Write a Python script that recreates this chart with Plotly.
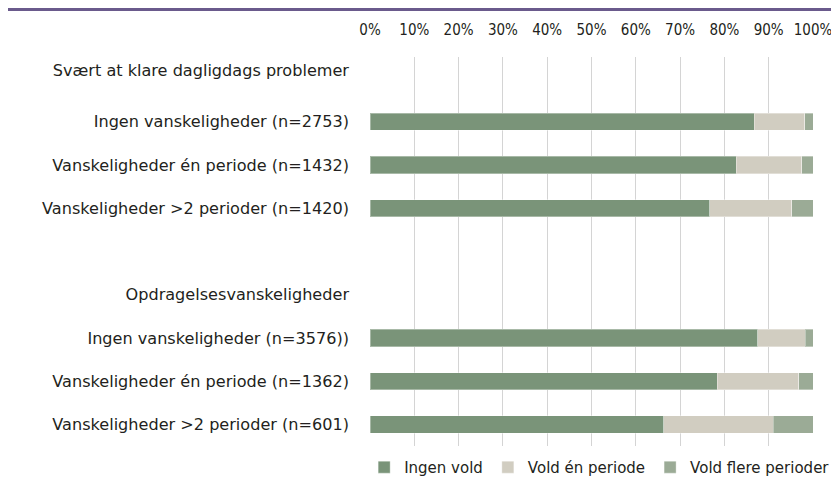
import plotly.graph_objects as go

# rows top to bottom (blank strings are spacer / heading rows)
labels = ["Svært at klare dagligdags problemer",
          "Ingen vanskeligheder (n=2753)",
          "Vanskeligheder én periode (n=1432)",
          "Vanskeligheder >2 perioder (n=1420)",
          "",
          "Opdragelsesvanskeligheder",
          "Ingen vanskeligheder (n=3576))",
          "Vanskeligheder én periode (n=1362)",
          "Vanskeligheder >2 perioder (n=601)"]
rows = list(range(len(labels)))

ingen_vold = [None, 86.7, 82.7, 76.7, None, None, 87.5, 78.4, 66.3]
vold_en = [None, 11.4, 14.8, 18.5, None, None, 10.8, 18.4, 24.7]
vold_flere = [None, 1.9, 2.5, 4.8, None, None, 1.7, 3.2, 9.0]

series = [("Ingen vold", ingen_vold, "#7a9479"),
          ("Vold én periode", vold_en, "#d1cdc1"),
          ("Vold flere perioder", vold_flere, "#9bab96")]

fig = go.Figure()
for name, vals, col in series:
    fig.add_trace(go.Bar(y=rows, x=vals, name=name, orientation="h",
                         marker=dict(color=col, line=dict(color="rgba(255,255,255,0.35)", width=1)),
                         width=0.4))

# heading row label sits a bit higher than its slot
tickpos = [-0.2] + rows[1:]

# page body has an 8px margin, so the figure is 8px smaller and margins shifted
fig.update_layout(
    barmode="stack",
    width=831, height=482,
    margin=dict(l=362, r=26, t=49, b=44, autoexpand=False),
    paper_bgcolor="white", plot_bgcolor="white",
    font=dict(family="DejaVu Sans", size=16.1, color="#231f20"),
    showlegend=True,
    legend=dict(orientation="h", x=1.05, xanchor="right", y=-0.055, yanchor="middle",
                traceorder="normal", font=dict(size=15), itemwidth=30,
                tracegroupgap=0),
    xaxis=dict(side="top", range=[0, 100], dtick=10, ticksuffix="%",
               showgrid=True, gridcolor="#d4d4d4", gridwidth=1, zeroline=False,
               showline=False, ticks="", ticklabelstandoff=18, automargin=False,
               tickfont=dict(family="DejaVu Sans Condensed", size=15)),
    yaxis=dict(range=[8.5, -0.5], tickvals=tickpos, ticktext=labels,
               showgrid=False, zeroline=False, showline=False, ticks="",
               ticklabelstandoff=20, automargin=False),
    shapes=[dict(type="line", xref="paper", yref="paper",
                 x0=-0.82, x1=1.06, y0=1.122, y1=1.122,
                 line=dict(color="#6a5a8c", width=3))],
)

fig.write_html("out.html")
